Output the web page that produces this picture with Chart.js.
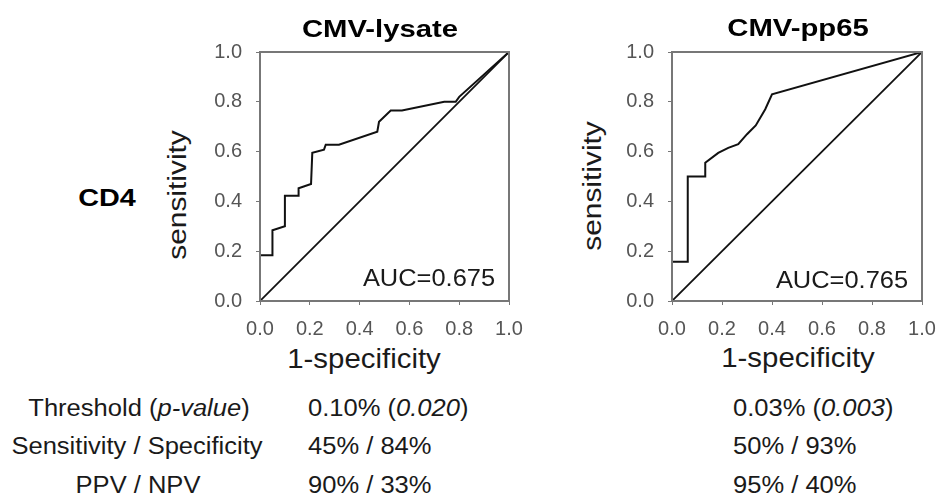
<!DOCTYPE html>
<html><head><meta charset="utf-8">
<script src="https://cdn.jsdelivr.net/npm/chart.js@4.4.1/dist/chart.umd.min.js"></script>
<style>
html,body{margin:0;padding:0;background:#fff;}
body{width:937px;height:499px;position:relative;overflow:hidden;font-family:"Liberation Sans",Arial,sans-serif;color:#1a1a1a;}
.t{position:absolute;white-space:nowrap;line-height:1;}
.ctr{transform:translate(-50%,-50%) scaleX(var(--sx,1));}
.lft{transform-origin:0 50%;transform:translateY(-50%) scaleX(var(--sx,1));}
.rot{transform:translate(-50%,-50%) rotate(-90deg) scaleX(var(--sx,1));}
.bold{font-weight:bold;color:#000;}
canvas{position:absolute;}
</style></head><body>
<canvas id="c1" width="330" height="302" style="left:200px;top:38px;width:330px;height:302px"></canvas>
<canvas id="c2" width="325" height="302" style="left:612px;top:38px;width:325px;height:302px"></canvas>

<div class="t ctr bold" style="left:380px;top:29px;font-size:24px;--sx:1.22">CMV-lysate</div>
<div class="t ctr bold" style="left:798px;top:28px;font-size:24px;--sx:1.22">CMV-pp65</div>
<div class="t ctr bold" style="left:107px;top:198px;font-size:24px;--sx:1.2">CD4</div>

<div class="t rot" style="left:177px;top:195px;font-size:26px;--sx:1.15">sensitivity</div>
<div class="t rot" style="left:592px;top:186px;font-size:26px;--sx:1.15">sensitivity</div>
<div class="t ctr" style="left:364px;top:359px;font-size:28px;--sx:1.05">1-specificity</div>
<div class="t ctr" style="left:798px;top:358px;font-size:28px;--sx:1.05">1-specificity</div>

<div class="t ctr" style="left:429px;top:278px;font-size:24px;--sx:1.06">AUC=0.675</div>
<div class="t ctr" style="left:842px;top:280px;font-size:24px;--sx:1.06">AUC=0.765</div>

<div class="t ctr" style="left:139px;top:408px;font-size:23px;--sx:1.11">Threshold (<i>p-value</i>)</div>
<div class="t ctr" style="left:137px;top:446px;font-size:23px;--sx:1.11">Sensitivity / Specificity</div>
<div class="t ctr" style="left:138px;top:485px;font-size:23px;--sx:1.11">PPV / NPV</div>
<div class="t lft" style="left:308px;top:408px;font-size:23px;--sx:1.11">0.10% (<i>0.020</i>)</div>
<div class="t lft" style="left:308px;top:446px;font-size:23px;--sx:1.11">45% / 84%</div>
<div class="t lft" style="left:308px;top:485px;font-size:23px;--sx:1.11">90% / 33%</div>
<div class="t lft" style="left:733px;top:408px;font-size:23px;--sx:1.11">0.03% (<i>0.003</i>)</div>
<div class="t lft" style="left:733px;top:446px;font-size:23px;--sx:1.11">50% / 93%</div>
<div class="t lft" style="left:733px;top:485px;font-size:23px;--sx:1.11">95% / 40%</div>

<script>
// ---- data ----
const tickLabels = ['0.0', '0.2', '0.4', '0.6', '0.8', '1.0'];
const lysateX = [0, 0.05, 0.05, 0.10, 0.10, 0.155, 0.155, 0.205, 0.21, 0.257, 0.264, 0.317, 0.471, 0.478, 0.525, 0.57, 0.74, 0.786, 0.80, 1.0];
const lysateY = [0.184, 0.184, 0.284, 0.30, 0.423, 0.423, 0.453, 0.47, 0.595, 0.608, 0.628, 0.628, 0.68, 0.72, 0.765, 0.765, 0.80, 0.80, 0.82, 1.0];
const pp65X = [0, 0.063, 0.063, 0.133, 0.133, 0.185, 0.225, 0.265, 0.30, 0.335, 0.373, 0.40, 1.0];
const pp65Y = [0.158, 0.158, 0.50, 0.50, 0.555, 0.595, 0.615, 0.63, 0.67, 0.705, 0.77, 0.83, 1.0];
const diagX = [0, 1];
const diagY = [0, 1];

const FONT = '"Liberation Sans", Arial, sans-serif';
const boxPlugin = {
  id: 'box',
  afterDraw(chart) {
    const {ctx, chartArea: a} = chart;
    ctx.save();
    ctx.strokeStyle = '#777';
    ctx.lineWidth = 2;
    ctx.strokeRect(a.left, a.top, a.right - a.left, a.bottom - a.top);
    ctx.restore();
  }
};

function zeroPad(s) { s.paddingLeft = 0; s.paddingRight = 0; s.paddingTop = 0; s.paddingBottom = 0; }

function axis(fitFn) {
  return {
    type: 'linear', min: 0, max: 1,
    ticks: {stepSize: 0.2, autoSkip: false, maxRotation: 0, color: '#555', padding: 0,
      font: {size: 20, family: FONT},
      callback: (v, i) => tickLabels[i]},
    grid: {drawOnChartArea: false, drawTicks: true, tickLength: 4, color: '#777', tickColor: '#777'},
    border: {display: false},
    afterFit: fitFn
  };
}

function makeChart(id, xs, ys, padRight) {
  const roc = xs.map((x, i) => ({x: x, y: ys[i]}));
  const diag = diagX.map((x, i) => ({x: x, y: diagY[i]}));
  const xAxis = axis(s => { s.height = 39; zeroPad(s); });
  xAxis.ticks.padding = 12;
  const yAxis = axis(s => { s.width = 60; zeroPad(s); });
  yAxis.ticks.padding = 14;
  return new Chart(document.getElementById(id), {
    type: 'scatter',
    data: {datasets: [
      {data: roc, showLine: true, borderColor: '#111', borderWidth: 2, pointRadius: 0, tension: 0, fill: false},
      {data: diag, showLine: true, borderColor: '#111', borderWidth: 1.8, pointRadius: 0, tension: 0, fill: false}
    ]},
    options: {
      responsive: false, animation: false, devicePixelRatio: 1,
      layout: {padding: {top: 14, right: padRight, left: 0, bottom: 0}},
      plugins: {legend: {display: false}, tooltip: {enabled: false}},
      scales: {x: xAxis, y: yAxis}
    },
    plugins: [boxPlugin]
  });
}

makeChart('c1', lysateX, lysateY, 21);
makeChart('c2', pp65X, pp65Y, 15);
</script>
</body></html>
